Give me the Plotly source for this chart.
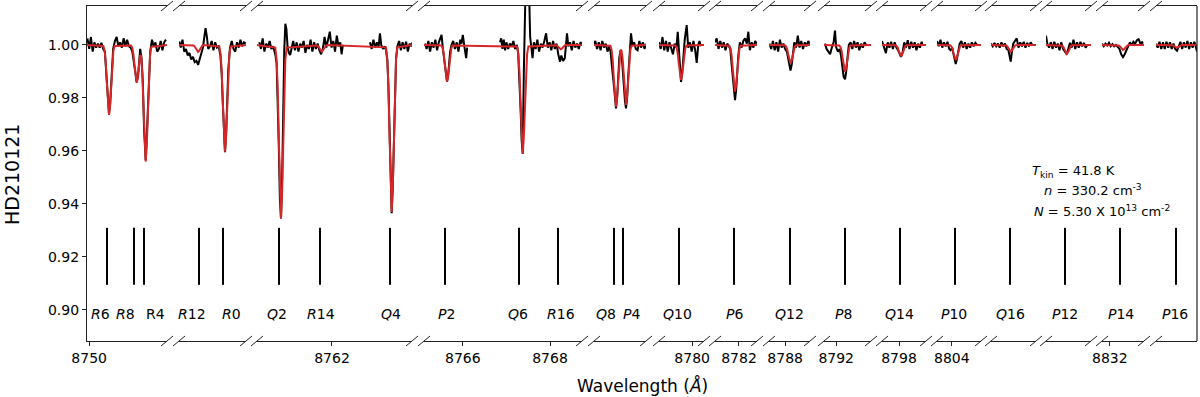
import plotly.graph_objects as go

# ---------------- data ----------------
seg_ranges = [
    (8749.95, 8751.785), (8756.25, 8757.787), (8760.28, 8763.835), (8765.11, 8768.734),
    (8772.31, 8773.503), (8779.24, 8780.272), (8781.45, 8782.413), (8787.63, 8788.570),
    (8791.72, 8792.798), (8797.61, 8798.619), (8803.66, 8804.669), (8809.00, 8810.032),
    (8817.00, 8818.032), (8831.82, 8832.783), (8848.50, 8849.440),
]
seg_ticks = [[8750], [], [8762], [8766, 8768], [], [8780], [8782], [8788], [8792],
             [8798], [8804], [], [], [8832], []]

# observed spectrum (wavelength, normalised flux)
obs1 = [(8749.96,1.0025),(8750.00,0.9985),(8750.04,1.0030),(8750.08,0.9975),(8750.12,1.0010),(8750.16,0.9990),
        (8750.20,1.0005),(8750.24,0.9990),(8750.28,1.0008),(8750.32,0.9985),(8750.36,0.9975),(8750.40,0.9870),
        (8750.43,0.9780),(8750.455,0.9740),(8750.48,0.9775),(8750.51,0.9880),(8750.55,0.9985),(8750.59,1.0015),
        (8750.63,1.0030),(8750.67,0.9995),(8750.71,1.0010),(8750.75,0.9990),(8750.79,1.0025),(8750.83,0.9995),
        (8750.87,1.0020),(8750.91,0.9995),(8750.95,0.9990),(8750.99,0.9975),(8751.03,0.9930),(8751.06,0.9880),
        (8751.09,0.9860),(8751.12,0.9880),(8751.15,0.9960),(8751.17,0.9985),(8751.20,0.9950),(8751.23,0.9860),
        (8751.26,0.9680),(8751.296,0.9565),(8751.33,0.9690),(8751.36,0.9850),(8751.40,0.9975),(8751.44,1.0020),
        (8751.48,0.9995),(8751.52,1.0010),(8751.56,0.9975),(8751.60,0.9985),(8751.64,1.0015),(8751.68,0.9980),
        (8751.72,1.0010),(8751.76,1.0020)]
obs2 = [(8756.257,1.0013),(8756.29,0.9990),(8756.33,1.0020),(8756.37,0.9975),(8756.41,0.9985),(8756.45,0.9960),
        (8756.49,0.9970),(8756.53,0.9945),(8756.57,0.9955),(8756.61,0.9935),(8756.65,0.9940),(8756.69,0.9925),
        (8756.73,0.9950),(8756.77,0.9975),(8756.80,0.9990),(8756.83,1.0030),(8756.86,1.0063),(8756.89,1.0030),
        (8756.92,0.9985),(8756.96,0.9995),(8757.00,1.0015),(8757.04,0.9980),(8757.08,1.0010),(8757.12,0.9990),
        (8757.16,0.9995),(8757.20,0.9960),(8757.23,0.9890),(8757.255,0.9780),(8757.28,0.9650),(8757.305,0.9595),
        (8757.33,0.9660),(8757.355,0.9790),(8757.38,0.9905),(8757.42,0.9990),(8757.46,1.0015),(8757.50,0.9985),
        (8757.54,0.9975),(8757.58,1.0010),(8757.62,0.9990),(8757.66,1.0020),(8757.70,0.9995),(8757.74,1.0010),
        (8757.78,1.0005)]
obs3 = [(8760.333,1.0010),(8760.37,0.9985),(8760.41,1.0025),(8760.45,0.9975),(8760.49,1.0005),(8760.53,0.9990),
        (8760.57,1.0015),(8760.61,0.9985),(8760.65,0.9995),(8760.68,0.9975),(8760.705,0.9960),(8760.73,0.9930),
        (8760.755,0.9810),(8760.78,0.9620),(8760.805,0.9420),(8760.83,0.9345),(8760.855,0.9480),(8760.88,0.9750),
        (8760.905,0.9980),(8760.93,1.0080),(8760.955,1.0060),(8760.98,0.9995),(8761.01,0.9970),(8761.04,0.9962),
        (8761.07,0.9990),(8761.11,1.0015),(8761.15,0.9980),(8761.19,1.0010),(8761.23,0.9975),(8761.27,1.0005),
        (8761.31,0.9990),(8761.35,1.0015),(8761.39,0.9970),(8761.43,1.0000),(8761.47,0.9985),(8761.51,1.0020),
        (8761.55,0.9975),(8761.59,1.0010),(8761.63,0.9985),(8761.67,1.0005),(8761.71,0.9980),(8761.75,0.9965),
        (8761.79,0.9985),(8761.83,1.0030),(8761.87,0.9990),(8761.91,1.0020),(8761.95,1.0050),(8761.99,0.9990),
        (8762.03,1.0015),(8762.07,0.9975),(8762.11,1.0035),(8762.15,0.9995),(8762.19,1.0010),(8762.22,0.9965),
        (8762.25,1.0000),(8762.56,None),
        (8762.87,1.0010),(8762.91,0.9985),(8762.95,1.0020),(8762.99,0.9990),(8763.03,1.0010),(8763.07,0.9995),
        (8763.10,1.0044),(8763.13,1.0000),(8763.17,0.9985),(8763.21,0.9995),(8763.24,0.9980),(8763.27,0.9940),
        (8763.295,0.9840),(8763.32,0.9665),(8763.345,0.9465),(8763.369,0.9365),(8763.395,0.9470),(8763.42,0.9670),
        (8763.445,0.9850),(8763.47,0.9950),(8763.50,0.9995),(8763.54,1.0015),(8763.58,0.9980),(8763.62,1.0010),
        (8763.66,0.9985),(8763.70,1.0012),(8763.74,0.9975),(8763.78,1.0005),(8763.82,0.9995),(8763.85,1.0010)]
obs4 = [(8765.133,1.0005),(8765.17,0.9985),(8765.21,1.0015),(8765.25,0.9975),(8765.29,1.0010),(8765.33,0.9990),
        (8765.37,1.0020),(8765.41,0.9980),(8765.45,1.0010),(8765.49,1.0025),(8765.513,1.0038),(8765.54,0.9990),
        (8765.565,0.9960),(8765.59,0.9920),(8765.615,0.9880),(8765.638,0.9862),(8765.66,0.9880),(8765.685,0.9930),
        (8765.71,0.9975),(8765.74,1.0000),(8765.78,1.0015),(8765.82,0.9985),(8765.86,1.0010),(8765.90,0.9975),
        (8765.94,1.0020),(8765.97,1.0005),(8766.00,1.0038),(8766.04,0.9990),(8766.077,0.9950),(8766.10,0.9990),
        (8766.45,None),
        (8766.853,1.0010),(8766.88,1.0025),(8766.91,0.9985),(8766.94,1.0020),(8766.97,0.9980),(8767.00,1.0010),
        (8767.04,0.9985),(8767.08,1.0005),(8767.12,0.9995),(8767.16,1.0015),(8767.20,0.9985),(8767.24,1.0000),
        (8767.27,0.9970),(8767.30,0.9880),(8767.325,0.9760),(8767.35,0.9640),(8767.374,0.9590),(8767.40,0.9900),
        (8767.42,1.0250),(8767.45,1.0300),(8767.49,1.0290),(8767.52,1.0200),(8767.545,1.0030),(8767.57,0.9985),
        (8767.60,0.9950),(8767.63,1.0010),(8767.67,0.9985),(8767.71,1.0020),(8767.75,0.9975),(8767.79,1.0005),
        (8767.83,0.9990),(8767.87,1.0015),(8767.91,1.0044),(8767.95,0.9990),(8767.99,1.0010),(8768.03,0.9980),
        (8768.07,1.0015),(8768.11,0.9985),(8768.15,1.0005),(8768.19,0.9965),(8768.23,0.9937),(8768.26,0.9960),
        (8768.30,0.9940),(8768.34,0.9950),(8768.37,1.0010),(8768.39,1.0044),(8768.42,0.9995),(8768.46,1.0010),
        (8768.50,0.9980),(8768.54,1.0015),(8768.58,0.9990),(8768.62,1.0005),(8768.66,0.9985),(8768.70,1.0010),
        (8768.73,1.0005)]
obs5 = [(8772.30,1.0000),(8772.34,1.0015),(8772.38,0.9985),(8772.42,1.0010),(8772.46,0.9980),(8772.50,1.0015),
        (8772.54,0.9990),(8772.58,1.0005),(8772.62,0.9975),(8772.66,0.9995),(8772.69,0.9975),(8772.72,0.9935),
        (8772.74,0.9890),(8772.765,0.9850),(8772.79,0.9800),(8772.815,0.9761),(8772.84,0.9800),(8772.865,0.9880),
        (8772.89,0.9950),(8772.92,0.9980),(8772.95,0.9950),(8772.97,0.9905),(8772.995,0.9830),(8773.02,0.9790),
        (8773.044,0.9761),(8773.07,0.9800),(8773.095,0.9880),(8773.12,0.9960),(8773.159,1.0044),(8773.19,1.0000),
        (8773.23,1.0010),(8773.27,0.9985),(8773.31,0.9980),(8773.35,1.0015),(8773.39,0.9990),(8773.43,1.0010),
        (8773.47,0.9985),(8773.50,1.0005)]
obs6 = [(8779.24,1.0010),(8779.28,0.9985),(8779.32,1.0030),(8779.36,0.9980),(8779.40,1.0015),(8779.44,0.9975),
        (8779.48,1.0010),(8779.52,0.9990),(8779.56,0.9965),(8779.60,1.0005),(8779.64,0.9990),(8779.67,1.0050),
        (8779.70,0.9970),(8779.72,0.9900),(8779.745,0.9860),(8779.77,0.9890),(8779.80,0.9960),(8779.83,1.0020),
        (8779.875,1.0075),(8779.91,0.9990),(8779.95,1.0010),(8779.99,0.9975),(8780.03,1.0015),(8780.07,0.9980),
        (8780.105,0.9932),(8780.14,1.0000),(8780.17,1.0015),(8780.196,0.9995)]
obs7 = [(8781.45,1.0010),(8781.49,1.0025),(8781.53,0.9985),(8781.57,1.0015),(8781.61,0.9990),(8781.65,1.0010),
        (8781.69,0.9980),(8781.73,1.0005),(8781.77,0.9995),(8781.80,0.9985),(8781.835,0.9920),(8781.86,0.9870),
        (8781.885,0.9820),(8781.909,0.9792),(8781.935,0.9830),(8781.96,0.9900),(8781.985,0.9960),(8782.02,1.0010),
        (8782.06,0.9990),(8782.10,1.0015),(8782.14,1.0025),(8782.18,1.0005),(8782.214,1.0050),(8782.25,0.9980),
        (8782.29,1.0010),(8782.33,0.9990),(8782.37,1.0015),(8782.41,1.0005)]
obs8 = [(8787.64,1.0005),(8787.68,0.9985),(8787.72,1.0015),(8787.76,0.9980),(8787.80,1.0010),(8787.84,0.9975),
        (8787.88,1.0020),(8787.92,0.9990),(8787.96,1.0005),(8788.00,0.9985),(8788.04,0.9975),(8788.07,0.9950),
        (8788.10,0.9915),(8788.123,0.9903),(8788.15,0.9925),(8788.18,0.9975),(8788.21,1.0010),(8788.25,0.9990),
        (8788.29,1.0035),(8788.33,0.9990),(8788.37,1.0015),(8788.41,0.9985),(8788.45,1.0010),(8788.49,0.9995),
        (8788.53,1.0015),(8788.56,1.0005)]
obs9 = [(8791.74,1.0005),(8791.78,0.9985),(8791.82,0.9975),(8791.86,0.9965),(8791.90,0.9990),(8791.94,1.0010),
        (8791.972,1.0054),(8792.00,0.9990),(8792.04,0.9975),(8792.08,0.9985),(8792.11,0.9960),(8792.14,0.9920),
        (8792.17,0.9880),(8792.202,0.9870),(8792.23,0.9900),(8792.26,0.9955),(8792.29,1.0000),(8792.33,1.0010),
        (8792.37,0.9985),(8792.41,1.0015),(8792.45,0.9990),(8792.49,1.0010),(8792.53,0.9980),(8792.57,1.0005),
        (8792.61,0.9990),(8792.65,1.0010),(8792.69,1.0000)]
obs10 = [(8797.61,1.0015),(8797.65,0.9990),(8797.70,0.9969),(8797.74,1.0010),(8797.78,0.9990),(8797.82,1.0012),
         (8797.86,0.9985),(8797.90,1.0010),(8797.94,0.9990),(8797.98,0.9980),(8798.01,0.9965),(8798.046,0.9955),
         (8798.08,0.9970),(8798.12,1.0010),(8798.16,0.9990),(8798.20,1.0018),(8798.24,0.9985),(8798.28,1.0012),
         (8798.32,0.9990),(8798.36,1.0010),(8798.40,0.9980),(8798.44,1.0005),(8798.48,0.9990),(8798.52,1.0012),
         (8798.54,1.0000)]
obs11 = [(8803.66,1.0015),(8803.70,0.9995),(8803.74,1.0020),(8803.78,0.9990),(8803.82,1.0010),(8803.86,0.9995),
         (8803.90,1.0012),(8803.94,0.9985),(8803.97,0.9980),(8804.01,0.9990),(8804.04,0.9965),(8804.065,0.9940),
         (8804.089,0.9928),(8804.115,0.9945),(8804.14,0.9975),(8804.18,1.0005),(8804.22,1.0015),(8804.26,0.9990),
         (8804.30,1.0010),(8804.34,0.9985),(8804.38,1.0005),(8804.42,0.9990),(8804.46,1.0010),(8804.50,0.9995),
         (8804.54,1.0008),(8804.58,1.0000)]
obs12 = [(8809.00,1.0005),(8809.04,0.9995),(8809.08,1.0008),(8809.12,0.9995),(8809.16,1.0005),(8809.20,0.9990),
         (8809.24,1.0010),(8809.28,0.9995),(8809.32,1.0005),(8809.36,0.9985),(8809.40,0.9980),(8809.43,0.9955),
         (8809.452,0.9937),(8809.48,0.9975),(8809.51,1.0005),(8809.55,1.0015),(8809.59,1.0025),(8809.63,0.9990),
         (8809.67,1.0010),(8809.71,0.9995),(8809.75,1.0012),(8809.79,0.9990),(8809.83,1.0008),(8809.87,0.9995),
         (8809.91,1.0010),(8809.95,1.0000)]
obs13 = [(8817.00,1.0035),(8817.03,1.0005),(8817.07,0.9990),(8817.11,1.0010),(8817.15,0.9985),(8817.19,1.0012),
         (8817.23,0.9990),(8817.27,1.0005),(8817.31,0.9980),(8817.35,1.0010),(8817.39,0.9985),(8817.43,0.9975),
         (8817.475,0.9965),(8817.51,0.9985),(8817.55,1.0008),(8817.59,0.9990),(8817.63,1.0020),(8817.67,0.9985),
         (8817.71,1.0010),(8817.75,0.9990),(8817.79,1.0012),(8817.83,0.9995),(8817.87,1.0008),(8817.91,0.9990),
         (8817.947,1.0000)]
obs14 = [(8831.82,1.0005),(8831.86,0.9995),(8831.90,1.0005),(8831.94,0.9998),(8831.98,1.0008),(8832.02,0.9995),
         (8832.06,1.0003),(8832.10,0.9995),(8832.14,1.0000),(8832.18,0.9990),(8832.22,0.9985),(8832.26,0.9965),
         (8832.302,0.9954),(8832.34,0.9965),(8832.38,0.9980),(8832.42,0.9995),(8832.46,1.0010),(8832.50,0.9998),
         (8832.54,1.0012),(8832.58,1.0005),(8832.62,1.0018),(8832.66,1.0022),(8832.70,1.0005),(8832.74,1.0010),
         (8832.76,1.0005)]
obs15 = [(8848.50,1.0005),(8848.54,0.9990),(8848.58,1.0012),(8848.62,0.9985),(8848.66,1.0010),(8848.70,0.9985),
         (8848.74,1.0012),(8848.78,0.9990),(8848.82,1.0010),(8848.86,0.9985),(8848.90,1.0005),(8848.94,0.9985),
         (8848.982,0.9978),(8849.02,0.9995),(8849.06,1.0012),(8849.10,0.9985),(8849.14,1.0010),(8849.18,0.9990),
         (8849.22,1.0015),(8849.26,0.9985),(8849.30,1.0010),(8849.34,0.9990),(8849.38,1.0012),(8849.41,0.9995),
         (8849.44,0.9975)]

# model fit (wavelength, normalised flux)
mod1 = [(8749.95,1.0),(8750.325,0.9996),(8750.355,0.9978),(8750.380,0.9934),(8750.405,0.9858),(8750.430,0.9774),
        (8750.455,0.9736),(8750.480,0.9774),(8750.505,0.9858),(8750.530,0.9934),(8750.555,0.9978),(8750.585,0.9996),
        (8750.96,0.9998),(8750.99,0.9988),(8751.015,0.9964),(8751.04,0.9923),(8751.065,0.9877),(8751.09,0.9857),
        (8751.115,0.9877),(8751.14,0.9922),(8751.165,0.9958),(8751.19,0.9961),(8751.22,0.9892),(8751.246,0.9763),
        (8751.271,0.9623),(8751.296,0.9560),(8751.321,0.9623),(8751.346,0.9763),(8751.371,0.9890),(8751.396,0.9963),
        (8751.426,0.9993),(8751.785,1.0)]
mod2 = [(8756.25,1.0),(8756.556,1.0),(8756.586,0.9998),(8756.611,0.9994),(8756.636,0.9986),(8756.661,0.9978),
        (8756.686,0.9974),(8756.711,0.9978),(8756.736,0.9986),(8756.761,0.9994),(8756.786,0.9998),(8756.816,1.0),
        (8757.175,0.9994),(8757.205,0.9966),(8757.230,0.9900),(8757.255,0.9783),(8757.280,0.9655),(8757.305,0.9597),
        (8757.330,0.9655),(8757.355,0.9783),(8757.380,0.9900),(8757.405,0.9966),(8757.435,0.9994),(8757.787,1.0)]
mod3 = [(8760.28,1.0),(8760.700,0.9990),(8760.730,0.9944),(8760.755,0.9837),(8760.780,0.9647),(8760.805,0.9439),
        (8760.830,0.9345),(8760.855,0.9439),(8760.880,0.9647),(8760.905,0.9837),(8760.930,0.9944),(8760.960,0.9990),
        (8761.634,1.0),(8761.664,0.9998),(8761.689,0.9994),(8761.714,0.9987),(8761.739,0.9979),(8761.764,0.9975),
        (8761.789,0.9979),(8761.814,0.9987),(8761.839,0.9994),(8761.864,0.9998),(8761.894,1.0),
        (8763.239,0.9991),(8763.269,0.9946),(8763.294,0.9843),(8763.319,0.9660),(8763.344,0.9460),(8763.369,0.9370),
        (8763.394,0.9460),(8763.419,0.9660),(8763.444,0.9843),(8763.469,0.9946),(8763.499,0.9991),(8763.835,1.0)]
mod4 = [(8765.11,1.0),(8765.508,0.9998),(8765.538,0.9988),(8765.563,0.9966),(8765.588,0.9926),(8765.613,0.9882),
        (8765.638,0.9862),(8765.663,0.9882),(8765.688,0.9926),(8765.713,0.9966),(8765.738,0.9988),(8765.768,0.9998),
        (8767.244,0.9994),(8767.274,0.9965),(8767.299,0.9898),(8767.324,0.9779),(8767.349,0.9649),(8767.374,0.9590),
        (8767.399,0.9649),(8767.424,0.9779),(8767.449,0.9898),(8767.474,0.9965),(8767.504,0.9994),
        (8768.115,1.0),(8768.145,0.9999),(8768.170,0.9996),(8768.195,0.9991),(8768.220,0.9986),(8768.245,0.9984),
        (8768.270,0.9986),(8768.295,0.9991),(8768.320,0.9996),(8768.345,0.9999),(8768.375,1.0),(8768.734,1.0)]
mod5 = [(8772.31,1.0),(8772.685,0.9997),(8772.715,0.9980),(8772.740,0.9942),(8772.765,0.9874),(8772.790,0.9800),
        (8772.815,0.9767),(8772.840,0.9800),(8772.865,0.9874),(8772.890,0.9941),(8772.915,0.9976),(8772.930,0.9982),
        (8772.944,0.9977),(8772.969,0.9943),(8772.994,0.9878),(8773.019,0.9806),(8773.044,0.9774),(8773.069,0.9806),
        (8773.094,0.9878),(8773.119,0.9944),(8773.144,0.9981),(8773.174,0.9997),(8773.503,1.0)]
mod6 = [(8779.24,1.0),(8779.615,0.9998),(8779.645,0.9989),(8779.670,0.9967),(8779.695,0.9929),(8779.720,0.9887),
        (8779.745,0.9868),(8779.770,0.9887),(8779.795,0.9929),(8779.820,0.9967),(8779.845,0.9989),(8779.875,0.9998),
        (8780.272,1.0)]
mod7 = [(8781.45,1.0),(8781.779,0.9997),(8781.809,0.9985),(8781.834,0.9956),(8781.859,0.9905),(8781.884,0.9849),
        (8781.909,0.9824),(8781.934,0.9849),(8781.959,0.9905),(8781.984,0.9956),(8782.009,0.9985),(8782.039,0.9997),
        (8782.413,1.0)]
mod8 = [(8787.63,1.0),(8787.993,0.9999),(8788.023,0.9994),(8788.048,0.9983),(8788.073,0.9963),(8788.098,0.9941),
        (8788.123,0.9931),(8788.148,0.9941),(8788.173,0.9963),(8788.198,0.9983),(8788.223,0.9994),(8788.253,0.9999),
        (8788.570,1.0)]
mod9 = [(8791.72,1.0),(8792.072,0.9998),(8792.102,0.9991),(8792.127,0.9975),(8792.152,0.9946),(8792.177,0.9913),
        (8792.202,0.9899),(8792.227,0.9913),(8792.252,0.9946),(8792.277,0.9975),(8792.302,0.9991),(8792.332,0.9998),
        (8792.798,1.0)]
mod10 = [(8797.61,1.0),(8797.916,0.9999),(8797.946,0.9996),(8797.971,0.9990),(8797.996,0.9977),(8798.021,0.9964),
         (8798.046,0.9958),(8798.071,0.9964),(8798.096,0.9977),(8798.121,0.9990),(8798.146,0.9996),(8798.176,0.9999),
         (8798.619,1.0)]
mod11 = [(8803.66,1.0),(8803.959,0.9999),(8803.989,0.9995),(8804.014,0.9986),(8804.039,0.9969),(8804.064,0.9951),
         (8804.089,0.9943),(8804.114,0.9951),(8804.139,0.9969),(8804.164,0.9986),(8804.189,0.9995),(8804.219,0.9999),
         (8804.669,1.0)]
mod12 = [(8809.00,1.0),(8809.322,1.0),(8809.352,0.9998),(8809.377,0.9994),(8809.402,0.9987),(8809.427,0.9979),
         (8809.452,0.9975),(8809.477,0.9979),(8809.502,0.9987),(8809.527,0.9994),(8809.552,0.9998),(8809.582,1.0),
         (8810.032,1.0)]
mod13 = [(8817.00,1.0),(8817.345,0.9999),(8817.375,0.9997),(8817.400,0.9992),(8817.425,0.9982),(8817.450,0.9971),
         (8817.475,0.9966),(8817.500,0.9971),(8817.525,0.9982),(8817.550,0.9992),(8817.575,0.9997),(8817.605,0.9999),
         (8818.032,1.0)]
mod14 = [(8831.82,1.0),(8832.172,1.0),(8832.202,0.9998),(8832.227,0.9995),(8832.252,0.9990),(8832.277,0.9984),
         (8832.302,0.9981),(8832.327,0.9984),(8832.352,0.9990),(8832.377,0.9995),(8832.402,0.9998),(8832.432,1.0),
         (8832.783,1.0)]
mod15 = [(8848.50,1.0),(8848.852,1.0),(8848.882,0.9999),(8848.907,0.9997),(8848.932,0.9994),(8848.957,0.9991),
         (8848.982,0.9989),(8849.007,0.9991),(8849.032,0.9994),(8849.057,0.9997),(8849.082,0.9999),(8849.112,1.0),
         (8849.440,1.0)]

# C2 line identifications
line_names = ["R6", "R8", "R4", "R12", "R0", "Q2", "R14", "Q4", "P2", "Q6", "R16", "Q8", "P4",
              "Q10", "P6", "Q12", "P8", "Q14", "P10", "Q16", "P12", "P14", "P16"]
line_wave = [8750.409, 8751.028, 8751.257, 8756.709, 8757.259, 8760.785, 8761.725, 8763.330,
             8765.592, 8767.289, 8768.183, 8772.769, 8772.975, 8779.699, 8781.886, 8788.112,
             8792.202, 8798.023, 8804.073, 8809.436, 8817.436, 8832.233, 8848.959]
italic_letter = [True, True, False] + [True] * 20
marker_top = 0.931
marker_bottom = 0.9095
label_level = 0.8985

fit_text = ["<i>T</i><sub>kin</sub> = 41.8 K",
            "<i>n</i> = 330.2 cm<sup>-3</sup>",
            "<i>N</i> = 5.30 X 10<sup>13</sup> cm<sup>-2</sup>"]

observed = [obs1, obs2, obs3, obs4, obs5, obs6, obs7, obs8, obs9, obs10, obs11, obs12, obs13, obs14, obs15]
models = [mod1, mod2, mod3, mod4, mod5, mod6, mod7, mod8, mod9, mod10, mod11, mod12, mod13, mod14, mod15]

# ---------------- layout (styling / positions) ----------------
FONT = "DejaVu Sans"
AXC = "#222222"
label_dx = [-6.5, -8.5, 12, -7, 9, -2, 1, 1, 1, -1.5, 3, -8.5, 9, -1.5, 0, -0.5, -2, -1, -1, 0, -0.5, 0.5, -1.5]
# panel edges in pixels (plot area spans 87..1197)
panel_px = [(87, 167), (179, 246), (257, 412), (424, 582), (594, 646), (659, 704), (715, 757),
            (769, 810), (824, 871), (882, 926), (937, 981), (991, 1036), (1046, 1091),
            (1102, 1144), (1156, 1197)]
PL, PW = 87, 1110
domains = [[(a - PL) / PW, (b - PL) / PW] for a, b in panel_px]
n = len(seg_ranges)

def axname(i):
    return "x" if i == 0 else f"x{i+1}"

def seg_of(w):
    for i, (lo, hi) in enumerate(seg_ranges):
        if lo <= w <= hi:
            return i
    return 0

fig = go.Figure()

for i in range(n):
    ow = [p[0] for p in observed[i]]
    of = [p[1] for p in observed[i]]
    mw = [p[0] for p in models[i]]
    mf = [p[1] for p in models[i]]
    fig.add_trace(go.Scatter(x=ow, y=of, mode="lines", xaxis=axname(i), yaxis="y",
                             line=dict(color="black", width=2), showlegend=False, hoverinfo="skip"))
    fig.add_trace(go.Scatter(x=mw, y=mf, mode="lines", xaxis=axname(i), yaxis="y",
                             line=dict(color="#d62728", width=2), showlegend=False, hoverinfo="skip"))

# identification markers
for i in range(n):
    xs, ys = [], []
    for w in line_wave:
        if seg_of(w) == i:
            xs += [w, w, None]
            ys += [marker_top, marker_bottom, None]
    if xs:
        fig.add_trace(go.Scatter(x=xs, y=ys, mode="lines", xaxis=axname(i), yaxis="y",
                                 line=dict(color="black", width=2), showlegend=False, hoverinfo="skip"))

annotations = []
for name, w, ital, dx in zip(line_names, line_wave, italic_letter, label_dx):
    txt = f"<i>{name[0]}</i>{name[1:]}" if ital else name
    annotations.append(dict(x=w, y=label_level, xref=axname(seg_of(w)), yref="y", text=txt,
                            showarrow=False, xshift=dx, xanchor="center", yanchor="middle",
                            font=dict(family=FONT, size=14, color="black")))

# fit parameters
fit_pos = [(1030, 171), (1042, 190), (1032, 211)]
for t, (px, py) in zip(fit_text, fit_pos):
    annotations.append(dict(x=(px - PL) / PW, y=(341 - py) / 335, xref="paper", yref="paper",
                            text=t, showarrow=False, xanchor="left", yanchor="middle",
                            font=dict(family=FONT, size=13, color="black")))

annotations.append(dict(x=(642 - PL) / PW, y=(341 - 385) / 335, xref="paper", yref="paper",
                        text="Wavelength (<i>Å</i>)", showarrow=False, xanchor="center", yanchor="middle",
                        font=dict(family=FONT, size=17, color="black")))
annotations.append(dict(x=(12 - PL) / PW, y=(341 - 175) / 335, xref="paper", yref="paper",
                        text="HD210121", textangle=-90, showarrow=False, xanchor="center", yanchor="middle",
                        font=dict(family=FONT, size=19, color="black")))

shapes = []
dxp, dyp = 6 / PW, 5 / 335
for i in range(n - 1):
    for xe in (domains[i][1], domains[i + 1][0]):
        for ye in (0, 1):
            shapes.append(dict(type="line", xref="paper", yref="paper",
                               x0=xe - dxp, y0=ye - dyp, x1=xe + dxp, y1=ye + dyp,
                               line=dict(color=AXC, width=1)))
shapes.append(dict(type="line", xref="paper", yref="paper", x0=1, x1=1, y0=0, y1=1,
                   line=dict(color=AXC, width=1.2)))

layout = dict(
    width=1200, height=397, autosize=False,
    margin=dict(l=PL, r=1200 - PL - PW, t=6, b=56, pad=0, autoexpand=False),
    paper_bgcolor="white", plot_bgcolor="white",
    showlegend=False,
    annotations=annotations, shapes=shapes,
    yaxis=dict(range=[0.8883, 1.0147], anchor="x", tickvals=[0.90, 0.92, 0.94, 0.96, 0.98, 1.00],
               tickformat=".2f", ticks="outside", ticklen=4, tickcolor=AXC, showline=True,
               linecolor=AXC, linewidth=1.2, showgrid=False, zeroline=False, automargin=False,
               tickfont=dict(family=FONT, size=14, color="black")),
)
for i in range(n):
    key = "xaxis" if i == 0 else f"xaxis{i+1}"
    layout[key] = dict(domain=domains[i], range=list(seg_ranges[i]), anchor="y",
                       tickvals=seg_ticks[i], ticktext=[str(t) for t in seg_ticks[i]],
                       ticks="outside", ticklen=4, tickcolor=AXC, showline=True, mirror=True,
                       linecolor=AXC, linewidth=1.2, showgrid=False, zeroline=False, automargin=False,
                       tickfont=dict(family=FONT, size=14, color="black"))

fig.update_layout(**layout)
fig.write_html("out.html", config={"displayModeBar": False},
               post_script="document.body.style.margin='0';document.body.style.overflow='hidden';")
